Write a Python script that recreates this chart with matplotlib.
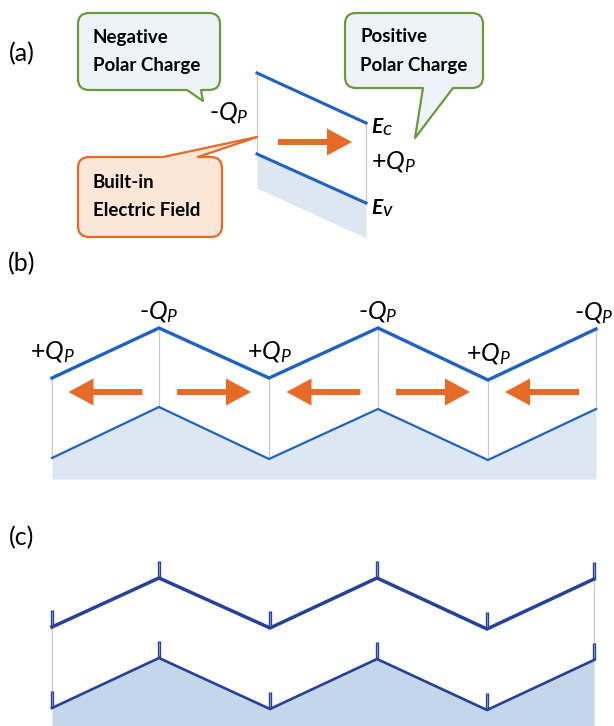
import matplotlib
matplotlib.use('Agg')
import matplotlib.pyplot as plt
from matplotlib.path import Path
from matplotlib.patches import PathPatch, FancyArrow

plt.rcParams['font.family'] = ['Lato', 'DejaVu Sans']
plt.rcParams['mathtext.fontset'] = 'custom'
plt.rcParams['mathtext.rm'] = 'Lato'
plt.rcParams['mathtext.it'] = 'Lato:italic'

# (a) single polar layer: band edges on the two faces (pixel units)
a_x = [257, 366]
a_ec = [73, 123]
a_ev = [154, 203]
a_floor = [188, 238]

# (b) stack with alternating polarisation
b_x = [52, 159, 269, 378, 488, 596]
b_ec = [378, 328, 378, 328, 380, 329]
b_ev = [458, 407, 459, 409, 460, 409]
b_floor = 479
b_labels = ['+', '-', '+', '-', '+', '-']
b_field = [-1, 1, -1, 1, -1]

# (c) same stack, spikes at every interface
c_x = [52, 159, 270, 377, 487, 594]
c_ec = [627, 578, 628, 578, 629, 579]
c_ev = [708, 658, 709, 659, 710, 660]
c_floor = 726

BLUE = '#1f63be'
NAVY = '#27409a'
ORANGE = '#e66a28'
GREEN = '#6b9a3c'
SHADE_B = '#dde7f3'
SHADE_C = '#c4d7ea'
GRAY = '#c9c9c9'

fig = plt.figure(figsize=(6.14, 7.26), dpi=100)
ax = fig.add_axes([0, 0, 1, 1])
ax.set_xlim(0, 614)
ax.set_ylim(726, 0)
ax.axis('off')


def bubble(x0, y0, x1, y1, side, ba, bb, tip, fc, ec, r=11):
    # rounded box with a speech tail on top or bottom edge
    v = [(x0 + r, y0)]
    c = [Path.MOVETO]
    if side == 'top':
        v += [(ba, y0), tip, (bb, y0)]
        c += [Path.LINETO] * 3
    v += [(x1 - r, y0), (x1, y0), (x1, y0 + r), (x1, y1 - r), (x1, y1), (x1 - r, y1)]
    c += [Path.LINETO, Path.CURVE3, Path.CURVE3, Path.LINETO, Path.CURVE3, Path.CURVE3]
    if side == 'bottom':
        v += [(bb, y1), tip, (ba, y1)]
        c += [Path.LINETO] * 3
    v += [(x0 + r, y1), (x0, y1), (x0, y1 - r), (x0, y0 + r), (x0, y0), (x0 + r, y0)]
    c += [Path.LINETO, Path.CURVE3, Path.CURVE3, Path.LINETO, Path.CURVE3, Path.CURVE3]
    v.append((0, 0))
    c.append(Path.CLOSEPOLY)
    ax.add_patch(PathPatch(Path(v, c), fc=fc, ec=ec, lw=1.6, joinstyle='round', zorder=3))


def arrow(x_tail, x_tip, y):
    ax.add_patch(FancyArrow(x_tail, y, x_tip - x_tail, 0, width=6, head_width=27,
                            head_length=25, length_includes_head=True,
                            fc=ORANGE, ec='none', zorder=4))


def esub(x, y, main, sub):
    ax.text(x, y, main, fontsize=15, fontweight='bold', fontstyle='italic', va='center', ha='left')
    ax.text(x + 11, y + 4, sub, fontsize=10, fontweight='bold', fontstyle='italic', va='center', ha='left')


QSIZE = 18
# ---- (a) ----
ax.text(22, 54, '(a)', fontsize=18, ha='center', va='center')
ax.fill_between(a_x, a_ev, a_floor, color=SHADE_B, lw=0, zorder=1)
ax.plot([a_x[0], a_x[0]], [a_ec[0], a_ev[0]], color=GRAY, lw=0.9, zorder=2)
ax.plot([a_x[1], a_x[1]], [a_ec[1], a_ev[1]], color=GRAY, lw=0.9, zorder=2)
ax.plot(a_x, a_ec, color=BLUE, lw=2.2, zorder=3)
ax.plot(a_x, a_ev, color=BLUE, lw=2.2, zorder=3)
arrow(278, 352, 142)
ax.text(249, 113, r'-$Q_P$', fontsize=QSIZE, ha='right', va='center')
ax.text(371, 162, r'+$Q_P$', fontsize=QSIZE, ha='left', va='center')
esub(371, 127, 'E', 'C')
esub(371, 208, 'E', 'V')

bubble(78, 13, 220, 90, 'bottom', 187, 201, (203, 101), '#eef3f9', GREEN)
ax.text(93, 37, 'Negative', fontsize=13.5, fontweight='bold', va='center', zorder=5)
ax.text(93, 65, 'Polar Charge', fontsize=13.5, fontweight='bold', va='center', zorder=5)

bubble(345, 13, 483, 88, 'bottom', 423, 453, (415, 138), '#eef3f9', GREEN)
ax.text(360, 37, 'Positive', fontsize=13.5, fontweight='bold', va='center', zorder=5)
ax.text(360, 65, 'Polar Charge', fontsize=13.5, fontweight='bold', va='center', zorder=5)

bubble(78, 157, 222, 237, 'top', 163, 198, (257, 137), '#fce6d8', ORANGE)
ax.text(93, 182, 'Built-in', fontsize=13.5, fontweight='bold', va='center', zorder=5)
ax.text(93, 210, 'Electric Field', fontsize=13.5, fontweight='bold', va='center', zorder=5)

# ---- (b) ----
ax.text(22, 264, '(b)', fontsize=18, ha='center', va='center')
ax.fill_between(b_x, b_ev, b_floor, color=SHADE_B, lw=0, zorder=1)
for x, e1, e2 in zip(b_x, b_ec, b_ev):
    ax.plot([x, x], [e1, e2], color=GRAY, lw=0.9, zorder=2)
ax.plot(b_x, b_ec, color=BLUE, lw=2.4, zorder=3, solid_joinstyle='miter')
ax.plot(b_x, b_ev, color=BLUE, lw=1.6, zorder=3, solid_joinstyle='miter')
for i, d in enumerate(b_field):
    mid = (b_x[i] + b_x[i + 1]) / 2
    arrow(mid - 37 * d, mid + 37 * d, 392)
for x, e, s in zip(b_x, b_ec, b_labels):
    dy = 26 if s == '+' else 16
    xx = min(x, 594)
    ax.text(xx, e - dy, s + r'$Q_P$', fontsize=QSIZE, ha='center', va='center')

# ---- (c) ----
ax.text(22, 538, '(c)', fontsize=18, ha='center', va='center')
ax.fill_between(c_x, c_ev, c_floor, color=SHADE_C, lw=0, zorder=1)
ax.plot([c_x[0], c_x[0]], [c_ec[0], c_ev[0]], color=GRAY, lw=0.9, zorder=2)
ax.plot([c_x[-1], c_x[-1]], [c_ec[-1], c_ev[-1]], color=GRAY, lw=0.9, zorder=2)
ax.plot(c_x, c_ec, color=NAVY, lw=2.5, zorder=3, solid_joinstyle='miter')
ax.plot(c_x, c_ev, color=NAVY, lw=1.9, zorder=3, solid_joinstyle='miter')
for x, e1, e2 in zip(c_x, c_ec, c_ev):
    for e in (e1, e2):
        ax.plot([x, x], [e, e - 17], color=NAVY, lw=2.4, zorder=4, solid_capstyle='butt')
        ax.plot([x, x], [e - 2, e - 16], color='#9fb3dc', lw=0.5, zorder=5, solid_capstyle='butt')

fig.savefig('out.png', dpi=100)
